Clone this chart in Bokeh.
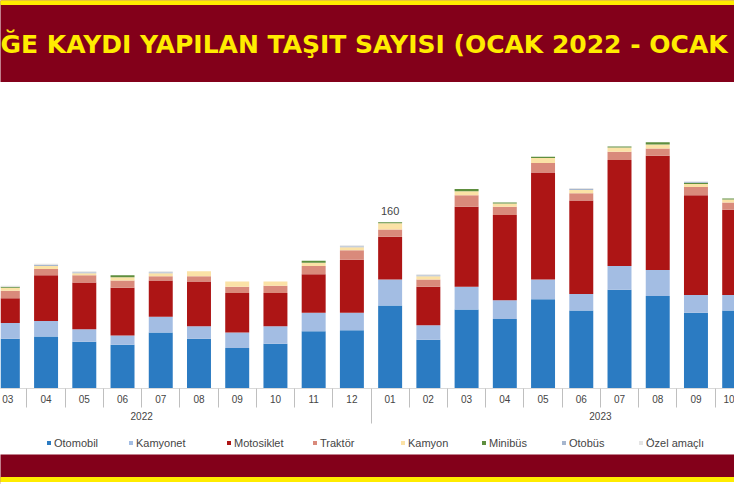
from bokeh.plotting import figure
from bokeh.models import (ColumnDataSource, Range1d, LinearAxis, FixedTicker,
                          Legend, LegendItem)
from bokeh.layouts import column
from bokeh.core.properties import value
from bokeh.embed import file_html
from bokeh.resources import INLINE

# ---------------- data ----------------
years = ["2022"] * 10 + ["2023"] * 10
months = ["03", "04", "05", "06", "07", "08", "09", "10", "11", "12",
          "01", "02", "03", "04", "05", "06", "07", "08", "09", "10"]

otomobil   = [48, 50, 45, 42, 54, 48, 39, 43, 55, 56, 80, 47, 76, 67, 86, 75, 95, 89, 73, 75]
kamyonet   = [15, 15, 12, 9, 15, 12, 15, 17, 18, 17, 25, 14, 22, 18, 19, 16, 23, 25, 17, 15]
motosiklet = [24, 44, 45, 46, 35, 43, 38, 32, 37, 51, 41, 37, 77, 82, 103, 90, 102, 110, 96, 82]
traktor    = [7, 6, 7, 7, 4, 5, 6, 7, 8, 9, 7, 7, 11, 8, 9, 7, 8, 7, 8, 7]
kamyon     = [3, 3, 2, 3, 3, 5, 5, 4, 3, 3, 6, 3, 4, 3, 5, 3, 4, 4, 3, 3]
minibus    = [1, 0, 0, 2, 0, 0, 0, 0, 2, 0, 1, 0, 2, 1, 1, 0, 1, 2, 1, 1]
otobus     = [0, 1, 1, 0, 1, 0, 0, 0, 0, 1, 0, 1, 0, 0, 0, 1, 0, 0, 1, 0]
ozel       = [1, 1, 1, 0, 1, 0, 0, 0, 0, 1, 0, 1, 0, 0, 0, 1, 0, 0, 0, 0]

series_names = ["Otomobil", "Kamyonet", "Motosiklet", "Traktör", "Kamyon",
                "Minibüs", "Otobüs", "Özel amaçlı"]
series_vals = [otomobil, kamyonet, motosiklet, traktor, kamyon, minibus, otobus, ozel]
colors = ["#2b7bc2", "#a3bde3", "#ad1515", "#d98a7b", "#fbe2a6",
          "#5e8e3e", "#a6b6ce", "#e4e4e4"]

# label shown above the January 2023 bar
label_month = ("2023", "01")

title_text = "ĞE KAYDI YAPILAN TAŞIT SAYISI (OCAK 2022 - OCAK"

RED = "#83001a"
YELLOW = "#ffec00"
TXT = "#454545"
W = 734

def bare(fig):
    fig.grid.visible = False
    fig.outline_line_color = None

# ---------------- top band ----------------
top = figure(width=W, height=82, x_range=Range1d(0, W), y_range=Range1d(0, 82),
             output_backend="svg", toolbar_location=None, min_border=0,
             x_axis_location=None, y_axis_location=None)
bare(top)
top.background_fill_color = RED
top.border_fill_color = RED
top.quad(left=[0], right=[W], bottom=[78], top=[82], color=YELLOW)
top.text(x=[0], y=[38.5], text=[title_text], text_color=YELLOW,
         text_font=value("DejaVu Sans"), text_font_style="bold",
         text_font_size="25px", text_baseline="middle", text_align="left")

# ---------------- main chart ----------------
xs = list(range(len(months)))
keys = ["s%d" % k for k in range(len(series_names))]
data = {"x": xs}
for k, v in zip(keys, series_vals):
    data[k] = v
source = ColumnDataSource(data)

p = figure(width=W, height=342, x_range=Range1d(-0.192, 19.008), y_range=Range1d(0, 294.6),
           output_backend="svg", toolbar_location=None,
           x_axis_location=None, y_axis_location=None,
           min_border_left=0, min_border_right=0, min_border_top=0, min_border_bottom=36)
bare(p)
p.background_fill_color = "white"

renderers = p.vbar_stack(keys, x="x", width=0.627, color=colors, line_color=None,
                         source=source)

# total label
totals = [sum(col[i] for col in series_vals) for i in xs]
li = [i for i in xs if (years[i], months[i]) == label_month]
p.text(x=li, y=[totals[i] for i in li], text=[str(totals[i]) for i in li],
       text_font=value("Liberation Sans"), text_font_size="11px", text_color=TXT,
       text_align="center", text_baseline="bottom", y_offset=-7)

# month axis
month_axis = LinearAxis(
    ticker=FixedTicker(ticks=xs, minor_ticks=[i - 0.5 for i in xs] + [xs[-1] + 0.5]),
    major_label_overrides={float(i): months[i] for i in xs},
    major_tick_out=0, major_tick_in=0,
    minor_tick_out=19, minor_tick_in=0, minor_tick_line_color="#bfbfbf",
    axis_line_color="#d9d9d9", major_label_standoff=-13,
    major_label_text_font="Liberation Sans", major_label_text_font_size="10px",
    major_label_text_color=TXT)
p.add_layout(month_axis, "below")

# year axis: group centres computed from the month numbers
year_ticks, year_labels, year_bounds = [], {}, []
for y in sorted(set(years)):
    idx = [i for i in xs if years[i] == y]
    first = idx[0] - (int(months[idx[0]]) - 1)
    c = first + 5.5
    year_ticks.append(c)
    year_labels[float(c)] = y
    year_bounds.append(first - 0.5)
year_axis = LinearAxis(
    ticker=FixedTicker(ticks=year_ticks, minor_ticks=year_bounds),
    major_label_overrides=year_labels,
    major_tick_out=0, major_tick_in=0,
    minor_tick_out=18, minor_tick_in=0, minor_tick_line_color="#bfbfbf",
    axis_line_color=None, major_label_standoff=-12,
    major_label_text_font="Liberation Sans", major_label_text_font_size="10px",
    major_label_text_color=TXT)
p.add_layout(year_axis, "below")

# ---------------- legend strip ----------------
lf = figure(width=W, height=30, x_range=Range1d(0, 1), y_range=Range1d(0, 1),
            output_backend="svg", toolbar_location=None, min_border=0,
            x_axis_location=None, y_axis_location=None)
bare(lf)
legend_x = [46, 128, 226, 312, 400, 481, 561, 638]
for n, c, lx in zip(series_names, colors, legend_x):
    sw = lf.vbar(x=[5], top=[1], width=0.1, color=c, line_color=None)
    lf.add_layout(Legend(items=[LegendItem(label=n, renderers=[sw])],
                         orientation="horizontal", location=(lx, 5),
                         glyph_width=5, glyph_height=5, label_standoff=3, spacing=0,
                         label_height=13, padding=0, margin=0,
                         border_line_color=None, background_fill_alpha=0,
                         label_text_font="Liberation Sans", label_text_font_size="11px",
                         label_text_color=TXT), "center")

# ---------------- bottom band ----------------
bot = figure(width=W, height=30, x_range=Range1d(0, W), y_range=Range1d(0, 30),
             output_backend="svg", toolbar_location=None, min_border=0,
             x_axis_location=None, y_axis_location=None)
bare(bot)
bot.background_fill_color = RED
bot.border_fill_color = RED
bot.quad(left=[0], right=[W], bottom=[2], top=[7], color=YELLOW)
bot.quad(left=[0], right=[W], bottom=[0], top=[2], color="white")

layout = column(top, p, lf, bot, spacing=0)
open("out.html", "w").write(file_html(layout, INLINE))
